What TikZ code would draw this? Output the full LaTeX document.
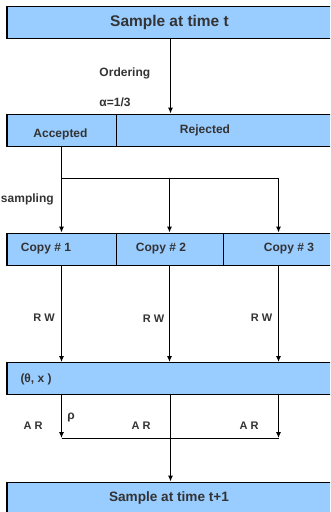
\documentclass[tikz,border=0pt]{standalone}
\usepackage{fontspec}
\setmainfont{Liberation Sans}
\usetikzlibrary{arrows.meta}
\definecolor{cell_blue}{RGB}{153,204,255}
\definecolor{txt_gray}{RGB}{51,51,51}

\begin{document}
\begin{tikzpicture}[x=0.75pt, y=-0.75pt, line width=0.75pt,
    cell/.style={draw=black, fill=cell_blue, inner sep=0pt, minimum height=24pt},
    flow/.style={-{Latex[length=4.5pt, width=3.8pt]}},
    head/.style={font=\bfseries\fontsize{11.6}{13}\selectfont, text=txt_gray, inner sep=0pt},
    lbl/.style={font=\bfseries\fontsize{9}{10}\selectfont, text=txt_gray, inner sep=0pt},
    tiny/.style={font=\bfseries\fontsize{8.25}{9}\selectfont, text=txt_gray, inner sep=0pt}]
  \clip (0,0) rectangle (330,512);
  % rows of cells
  \node[cell, minimum width=245.25pt] (top) at (170.5,22) {};
  \node[cell, minimum width=81.75pt] (acc) at (61.5,130) {};
  \node[cell, minimum width=163.5pt] (rej) at (225,130) {};
  \node[cell, minimum width=81.75pt] (copy1) at (61.5,249) {};
  \node[cell, minimum width=80.25pt] (copy2) at (169.5,249) {};
  \node[cell, minimum width=83.25pt] (copy3) at (278.5,249) {};
  \node[cell, minimum width=245.25pt] (theta) at (170.5,378.5) {};
  \node[cell, minimum width=245.25pt, minimum height=28.5pt] (next) at (170.5,501) {};
  % texts
  \node[head] (toptxt) at (169.5,22) {Sample at time t};
  \node[lbl] (acctxt) at (60.5,134) {Accepted};
  \node[lbl] (rejtxt) at (205,130.5) {Rejected};
  \node[lbl] (copy1txt) at (46,249) {Copy \# 1};
  \node[lbl] (copy2txt) at (161,249) {Copy \# 2};
  \node[lbl] (copy3txt) at (289,249) {Copy \# 3};
  \node[lbl, anchor=west] (thetatxt) at (20,379.5) {(θ, x )};
  \node[head, font=\bfseries\fontsize{10.2}{12}\selectfont] (nexttxt) at (169,498) {Sample at time t+1};
  \node[lbl, anchor=west] (ordtxt) at (99,73) {Ordering};
  \node[lbl, anchor=west] (alphatxt) at (99,102) {α=1/3};
  \node[lbl, anchor=west] (restxt) at (0.5,199) {sampling};
  \foreach \x/\y [count=\i] in {44/318, 153.5/319, 261.5/318}
    \node[tiny] (rw\i) at (\x,\y) {R W};
  \foreach \x [count=\i] in {33, 141, 249}
    \node[tiny] (ar\i) at (\x,426) {A R};
  \node[lbl] (rhotxt) at (71,418) {ρ};
  % connectors
  \draw[flow] (top.south) -- (top.south |- rej.north);
  \coordinate (fork) at (61.5,178);
  \draw[flow] (acc.south) -- (copy1.north);
  \draw[flow] (fork) -| (copy3.north);
  \draw[flow] (copy2.north |- fork) -- (copy2.north);
  \foreach \i in {1,2,3}
    \draw[flow] (copy\i.south) -- (copy\i.south |- theta.north);
  \coordinate (join) at (61.5,438);
  \draw[flow] (acc.south |- theta.south) -- (join);
  \draw[flow] (copy3.south |- theta.south) -- (copy3.south |- join);
  \draw (join) -- (copy3.south |- join);
  \draw[flow] (theta.south) -- (next.north);
\end{tikzpicture}
\end{document}
